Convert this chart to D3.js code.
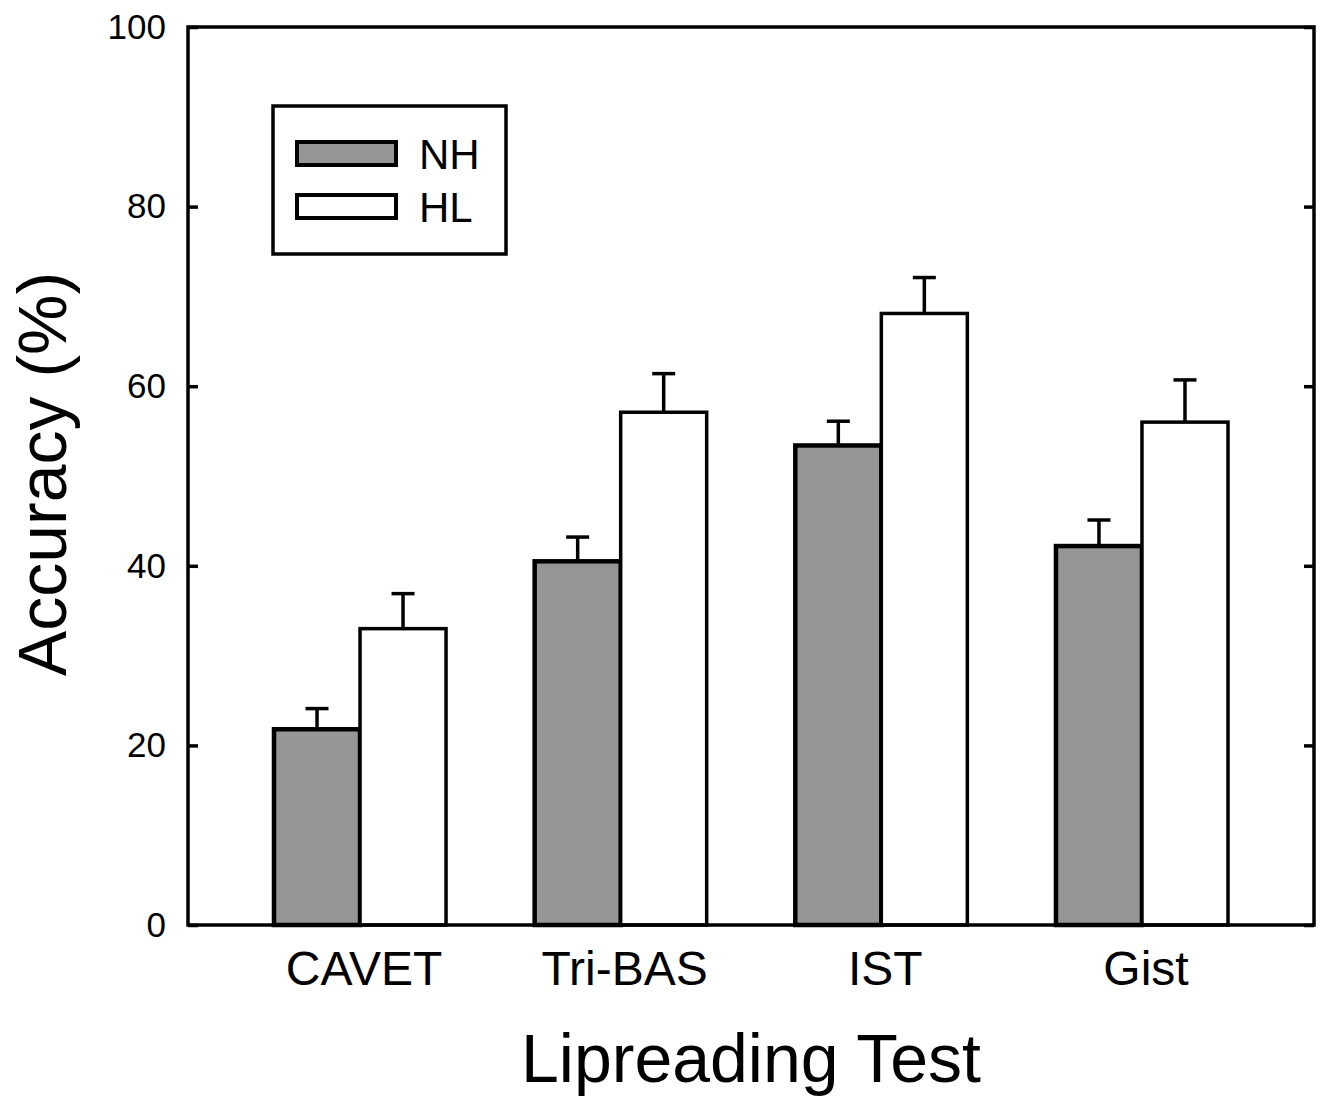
<!DOCTYPE html>
<html>
<head>
<meta charset="utf-8">
<script src="https://cdn.jsdelivr.net/npm/d3@7"></script>
<style>
  body { margin: 0; background: #fff; }
  text { font-family: "Liberation Sans", Arial, sans-serif; fill: #000; }
</style>
</head>
<body>
<div id="chart"></div>
<script>
// data
var tests = ["CAVET", "Tri-BAS", "IST", "Gist"];
var groups = ["NH", "HL"];
var nhMean = [21.8, 40.5, 53.4, 42.2];
var nhErr = [2.3, 2.7, 2.7, 2.9];
var hlMean = [33.0, 57.1, 68.1, 56.0];
var hlErr = [3.9, 4.3, 4.0, 4.7];
var yTicks = [0, 20, 40, 60, 80, 100];

var W = 1328, H = 1100;
var margin = { top: 27, right: 14, bottom: 175, left: 188 },
    width = W - margin.left - margin.right,
    height = H - margin.top - margin.bottom;

var svg = d3.select("#chart").append("svg")
    .attr("width", W)
    .attr("height", H);

var g = svg.append("g")
    .attr("transform", "translate(" + margin.left + "," + margin.top + ")");

var x = d3.scaleBand()
    .domain(tests)
    .range([0, width])
    .paddingInner(0.34)
    .paddingOuter(0.33);

var x1 = d3.scaleBand()
    .domain(groups)
    .range([0, x.bandwidth()]);

var y = d3.scaleLinear()
    .domain([0, 100])
    .range([height, 0]);

var colors = { NH: "#969696", HL: "#ffffff" };

var rows = [];
tests.forEach(function (t, i) {
    rows.push({ test: t, grp: "NH", mean: nhMean[i], err: nhErr[i] });
    rows.push({ test: t, grp: "HL", mean: hlMean[i], err: hlErr[i] });
});

// error bars (upper only), drawn under the bars
var eb = g.selectAll(".eb").data(rows).enter().append("g");
eb.append("line")
    .attr("x1", function (d) { return x(d.test) + x1(d.grp) + x1.bandwidth() / 2; })
    .attr("x2", function (d) { return x(d.test) + x1(d.grp) + x1.bandwidth() / 2; })
    .attr("y1", function (d) { return y(d.mean); })
    .attr("y2", function (d) { return y(d.mean + d.err); })
    .attr("stroke", "#000").attr("stroke-width", 3.5);
eb.append("line")
    .attr("x1", function (d) { return x(d.test) + x1(d.grp) + x1.bandwidth() / 2 - 11.5; })
    .attr("x2", function (d) { return x(d.test) + x1(d.grp) + x1.bandwidth() / 2 + 11.5; })
    .attr("y1", function (d) { return y(d.mean + d.err); })
    .attr("y2", function (d) { return y(d.mean + d.err); })
    .attr("stroke", "#000").attr("stroke-width", 3.5);

// bars
g.selectAll(".bar").data(rows).enter().append("rect")
    .attr("x", function (d) { return x(d.test) + x1(d.grp); })
    .attr("y", function (d) { return y(d.mean); })
    .attr("width", x1.bandwidth())
    .attr("height", function (d) { return height - y(d.mean); })
    .attr("fill", function (d) { return colors[d.grp]; })
    .attr("stroke", "#000")
    .attr("stroke-width", function (d) { return d.grp == "NH" ? 4.5 : 3.5; });

// frame
g.append("rect")
    .attr("width", width).attr("height", height)
    .attr("fill", "none").attr("stroke", "#000").attr("stroke-width", 3.5);

// y axes, ticks pointing inward
var yAxis = g.append("g")
    .call(d3.axisLeft(y).tickValues(yTicks).tickSizeInner(-10).tickSizeOuter(0).tickPadding(22));
yAxis.select(".domain").remove();
yAxis.selectAll("line").attr("stroke-width", 3.5);
yAxis.selectAll("text").style("font-size", "35px");

var yAxisR = g.append("g")
    .attr("transform", "translate(" + width + ",0)")
    .call(d3.axisRight(y).tickValues(yTicks).tickSizeInner(-10).tickSizeOuter(0).tickFormat(""));
yAxisR.select(".domain").remove();
yAxisR.selectAll("line").attr("stroke-width", 3.5);

// x axis labels
var xAxis = g.append("g")
    .attr("transform", "translate(0," + height + ")")
    .call(d3.axisBottom(x).tickSize(0).tickPadding(26));
xAxis.select(".domain").remove();
xAxis.selectAll("text").style("font-size", "48px").attr("dx", 4);

// axis titles
svg.append("text")
    .attr("x", 751)
    .attr("y", 1082)
    .attr("text-anchor", "middle")
    .style("font-size", "68px")
    .text("Lipreading Test");

svg.append("text")
    .attr("transform", "translate(66,474) rotate(-90)")
    .attr("text-anchor", "middle")
    .style("font-size", "68px")
    .text("Accuracy (%)");

// legend
var leg = svg.append("g").attr("transform", "translate(273,106)");
leg.append("rect")
    .attr("width", 233).attr("height", 148)
    .attr("fill", "#fff").attr("stroke", "#000").attr("stroke-width", 3.5);
groups.forEach(function (k, i) {
    leg.append("rect")
        .attr("x", 24).attr("y", 36 + i * 53)
        .attr("width", 99).attr("height", 23)
        .attr("fill", colors[k]).attr("stroke", "#000").attr("stroke-width", 4);
    leg.append("text")
        .attr("x", 146).attr("y", 36 + i * 53 + 27)
        .style("font-size", "42px")
        .text(k);
});
</script>
</body>
</html>
